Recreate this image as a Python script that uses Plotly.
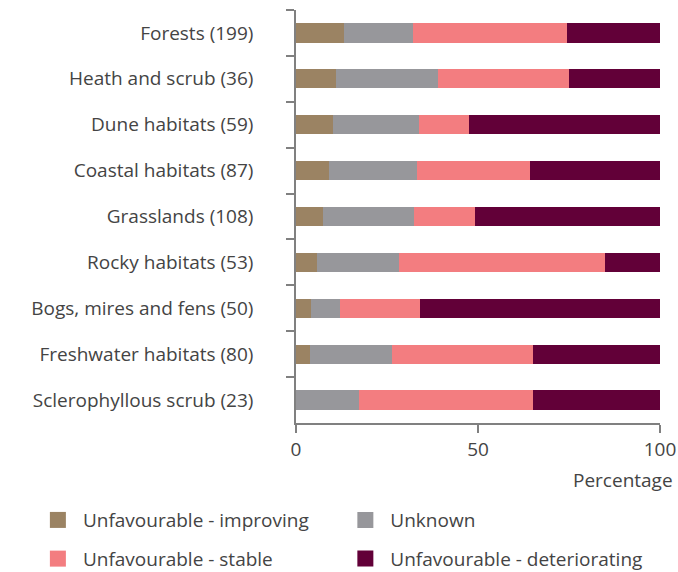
import plotly.graph_objects as go

# Habitat groups (number of assessments in brackets), listed top to bottom
habitats = [
    "Forests (199)",
    "Heath and scrub (36)",
    "Dune habitats (59)",
    "Coastal habitats (87)",
    "Grasslands (108)",
    "Rocky habitats (53)",
    "Bogs, mires and fens (50)",
    "Freshwater habitats (80)",
    "Sclerophyllous scrub (23)",
]

# Share of assessments per trend class (%)
improving = [13.1, 11.1, 10.2, 9.2, 7.4, 5.7, 4.0, 3.8, 0.0]
unknown = [19.1, 27.8, 23.7, 24.1, 25.0, 22.6, 8.0, 22.5, 17.4]
stable = [42.2, 36.1, 13.6, 31.0, 16.7, 56.6, 22.0, 38.7, 47.8]
deteriorating = [25.6, 25.0, 52.5, 35.6, 50.9, 15.1, 66.0, 35.0, 34.8]

series = [
    ("Unfavourable - improving", improving, "#9B8363", "legend"),
    ("Unknown", unknown, "#97979B", "legend2"),
    ("Unfavourable - stable", stable, "#F37D80", "legend"),
    ("Unfavourable - deteriorating", deteriorating, "#620038", "legend2"),
]

FONT = "Open Sans"
FS = 19
TEXT = "#444444"
AXIS = "#808080"

fig = go.Figure()

for name, values, color, leg in series:
    fig.add_trace(go.Bar(
        y=habitats, x=values, name=name, orientation="h",
        marker=dict(color=color, line=dict(width=0)),
        width=0.42, showlegend=False,
    ))

# Legend entries drawn as square markers
for name, values, color, leg in series:
    fig.add_trace(go.Scatter(
        x=[None], y=[None], mode="markers", name=name,
        marker=dict(symbol="square", size=16, color=color),
        legend=leg, legendgroup=name, showlegend=True,
    ))

legend_common = dict(
    orientation="v", xanchor="left", yanchor="top",
    xref="container", yref="container",
    font=dict(family=FONT, size=FS, color=TEXT),
    itemsizing="trace", itemwidth=40, tracegroupgap=11,
    bgcolor="rgba(0,0,0,0)", borderwidth=0,
)

fig.update_layout(
    width=678, height=572,
    margin=dict(l=296, r=18, t=10, b=149, autoexpand=False),
    barmode="stack",
    plot_bgcolor="white", paper_bgcolor="white",
    font=dict(family=FONT, size=FS, color=TEXT),
    legend=dict(x=0.0485, y=0.124, **legend_common),
    legend2=dict(x=0.502, y=0.124, **legend_common),
    xaxis=dict(
        range=[0, 100], tickvals=[0, 50, 100],
        showgrid=False, zeroline=False,
        showline=True, linecolor=AXIS, linewidth=1.5,
        ticks="outside", ticklen=8, tickcolor=AXIS, tickwidth=1.5,
        tickfont=dict(family=FONT, size=FS, color=TEXT),
        fixedrange=True,
    ),
    yaxis=dict(
        categoryorder="array", categoryarray=habitats,
        autorange="reversed",
        showgrid=False, zeroline=False,
        showline=True, linecolor=AXIS, linewidth=1.5,
        ticks="outside", tickson="boundaries", ticklen=8,
        tickcolor=AXIS, tickwidth=1.5,
        ticklabelstandoff=37,
        tickfont=dict(family=FONT, size=FS, color=TEXT),
        fixedrange=True,
    ),
    annotations=[dict(
        text="Percentage", xref="paper", yref="paper",
        x=1.04, y=-0.138, xanchor="right", yanchor="middle",
        showarrow=False, font=dict(family=FONT, size=FS, color=TEXT),
    )],
)

fig.write_html("out.html")
